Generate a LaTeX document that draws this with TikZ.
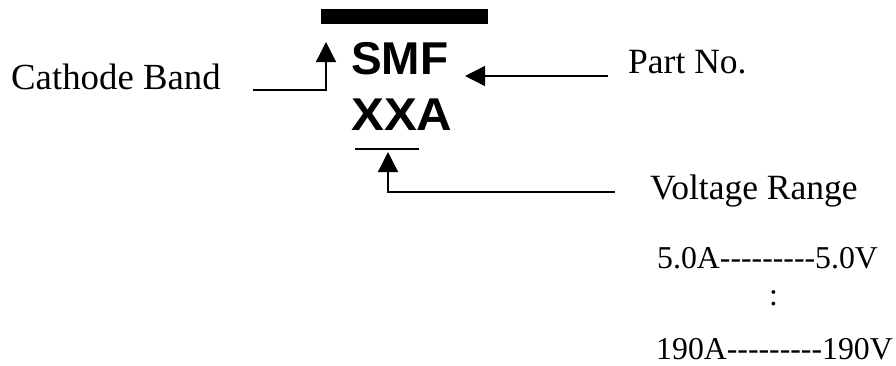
\documentclass[tikz,border=0pt]{standalone}
\usepackage{fontspec}
\setmainfont{Liberation Serif}
\newfontfamily\rngfont{Liberation Serif}
\newfontfamily\arialf{Liberation Sans}
\usetikzlibrary{arrows.meta}
\begin{document}
\begin{tikzpicture}[x=1pt,y=-1pt,
  lbl/.style={inner sep=0pt,anchor=base west,font=\fontsize{35.5}{35}\selectfont},
  rng/.style={inner sep=0pt,anchor=base west,font=\rngfont\fontsize{31.8}{31}\selectfont},
  partmark/.style={inner sep=0pt,anchor=base west,font=\arialf\bfseries\fontsize{46}{46}\selectfont},
  conn/.style={line width=1.3pt,-{Triangle[length=20pt,width=20pt]}}]
\useasboundingbox (0,0) rectangle (896,365);
\fill (321,9) rectangle (488,24);
\node[partmark] (smf) at (351,74) {SMF};
\node[partmark,xscale=1.07] (xxa) at (351,130) {XXA};
\draw[line width=1.6pt] (355,149) -- (419,149);
\node[lbl,font=\fontsize{36.8}{36}\selectfont] (cb) at (11,89) {Cathode Band};
\node[lbl] (pn) at (628,73) {Part No.};
\node[lbl] (vr) at (650,199) {Voltage Range};
\node[rng] (r1) at (657,268) {5.0A-\kern0pt-\kern0pt-\kern0pt-\kern0pt-\kern0pt-\kern0pt-\kern0pt-\kern0pt-5.0V};
\node[rng] (dots) at (769,305) {:};
\node[rng] (r2) at (656,359) {190A-\kern0pt-\kern0pt-\kern0pt-\kern0pt-\kern0pt-\kern0pt-\kern0pt-\kern0pt-190V};
\coordinate (cbs) at (253,90);
\coordinate (cbt) at (326,42);
\coordinate (pns) at (608,76);
\coordinate (pnt) at (465,76);
\coordinate (vrs) at (615,192);
\coordinate (vrt) at (388,152);
\draw[conn] (cbs) -| (cbt);
\draw[conn] (pns) -- (pnt);
\draw[conn] (vrs) -| (vrt);
\end{tikzpicture}
\end{document}
